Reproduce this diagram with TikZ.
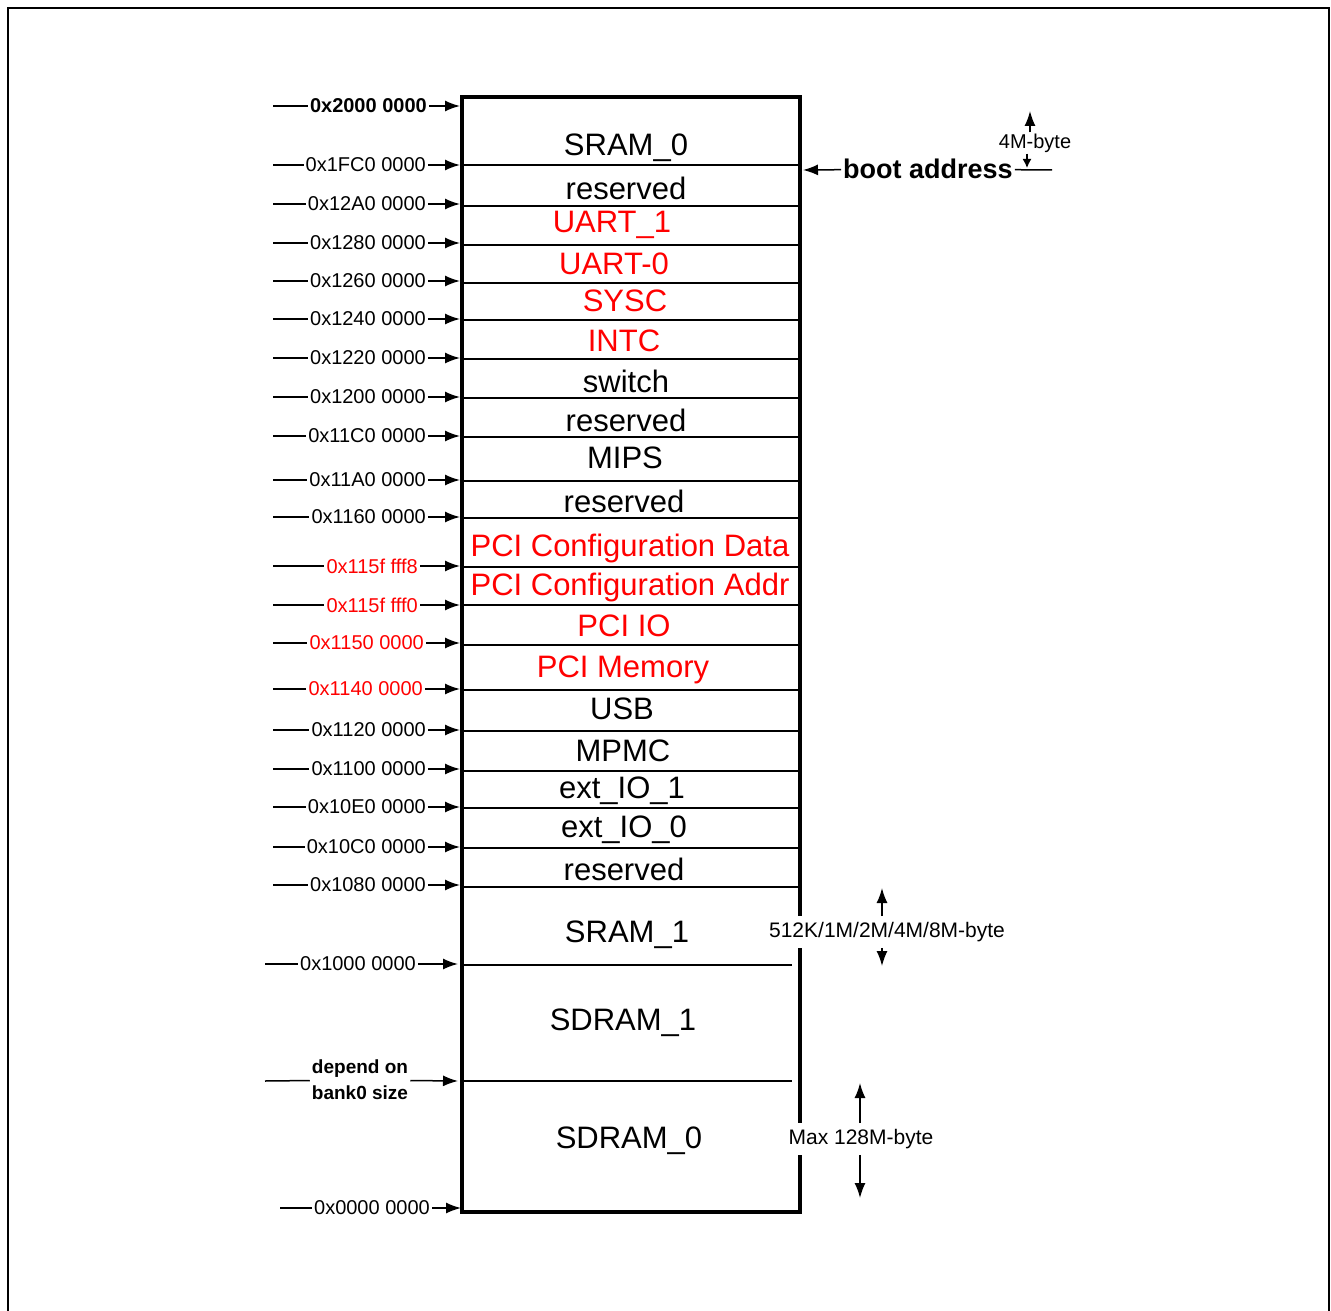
\documentclass[tikz,border=0pt]{standalone}
\usepackage{fontspec}
\setmainfont{Liberation Sans}
\usetikzlibrary{arrows.meta}

\begin{document}
\begin{tikzpicture}[x=1pt, y=-1pt,
  addr/.style={anchor=east, inner sep=2pt, font=\fontsize{20}{22}\selectfont},
  cell/.style={yshift=-3pt, font=\fontsize{31}{34}\selectfont},
  size/.style={fill=white, inner xsep=2pt, inner ysep=6pt, font=\fontsize{21}{23}\selectfont},
  link/.style={line width=1.5pt},
  arr/.style={-{Latex[length=15pt,width=11pt]}}]
  \useasboundingbox (0,0) rectangle (1331,1311);
  \draw[line width=2pt] (8,1320) -- (8,8) -- (1329,8) -- (1329,1320);

  % rows of the map
  \foreach \y in {206,245,283,320,359,398,437,481,518,567,605,645,690,731,771,808,848,887}
    \draw[link] (462,\y) -- (800,\y);
  \draw[line width=2.5pt] (462,165) -- (800,165);
  \draw[link] (462,965) -- (792,965);
  \draw[link] (462,1081) -- (792,1081);
  \draw[line width=4.5pt] (462,97) rectangle (800,1212);

  % blocks
  \node[cell] (sram0) at (626,145) {SRAM\_0};
  \node[cell] (rsv1) at (626,185) {reserved};
  \node[cell, red] (uart1) at (612,222) {UART\_1};
  \node[cell, red] (uart0) at (614,261) {UART-0};
  \node[cell, red] (sysc) at (625,298) {SYSC};
  \node[cell, red] (intc) at (624,338) {INTC};
  \node[cell] (switch) at (626,378) {switch};
  \node[cell] (rsv2) at (626,417) {reserved};
  \node[cell] (mips) at (625,455) {MIPS};
  \node[cell] (rsv3) at (624,498) {reserved};
  \node[cell, red] (pcidata) at (630,545) {PCI Configuration Data};
  \node[cell, red] (pciaddr) at (630,584) {PCI Configuration Addr};
  \node[cell, red] (pciio) at (624,623) {PCI IO};
  \node[cell, red] (pcimem) at (623,667) {PCI Memory};
  \node[cell] (usb) at (622,706) {USB};
  \node[cell] (mpmc) at (623,748) {MPMC};
  \node[cell] (extio1) at (622,788) {ext\_IO\_1};
  \node[cell] (extio0) at (624,827) {ext\_IO\_0};
  \node[cell] (rsv4) at (624,866) {reserved};
  \node[cell] (sram1) at (627,932) {SRAM\_1};
  \node[cell] (sdram1) at (623,1020) {SDRAM\_1};
  \node[cell] (sdram0) at (629,1138) {SDRAM\_0};

  % addresses
  \node[addr, font=\bfseries\fontsize{20}{22}\selectfont] (a0) at (429,106) {0x2000 0000};
  \coordinate (s0) at (273,106);
  \coordinate (e0) at (460,106);
  \draw[link] (s0) -- (a0);
  \draw[link, arr] (a0) -- (e0);
  \foreach \y/\t [count=\i] in {165/0x1FC0 0000, 204/0x12A0 0000, 243/0x1280 0000,
      281/0x1260 0000, 319/0x1240 0000, 358/0x1220 0000, 397/0x1200 0000,
      436/0x11C0 0000, 480/0x11A0 0000, 517/0x1160 0000, 730/0x1120 0000,
      769/0x1100 0000, 807/0x10E0 0000, 847/0x10C0 0000, 885/0x1080 0000} {
    \node[addr] (a\i) at (428,\y) {\t};
    \coordinate (s\i) at (273,\y);
    \coordinate (e\i) at (460,\y);
    \draw[link] (s\i) -- (a\i);
    \draw[link, arr] (a\i) -- (e\i);
  }
  \foreach \y/\t/\x [count=\i] in {566/0x115f fff8/420, 605/0x115f fff0/420,
      643/0x1150 0000/426, 689/0x1140 0000/425} {
    \node[addr, red] (r\i) at (\x,\y) {\t};
    \coordinate (rs\i) at (273,\y);
    \coordinate (re\i) at (460,\y);
    \draw[link] (rs\i) -- (r\i);
    \draw[link, arr] (r\i) -- (re\i);
  }
  \node[addr] (a16) at (418,964) {0x1000 0000};
  \coordinate (s16) at (265,964);
  \coordinate (e16) at (458,964);
  \draw[link] (s16) -- (a16);
  \draw[link, arr] (a16) -- (e16);
  \node[align=center, inner sep=2pt, font=\bfseries\fontsize{19}{26}\selectfont] (bank) at (360,1080) {depend on\\bank0 size};
  \coordinate (sbank) at (265,1081);
  \coordinate (ebank) at (458,1081);
  \draw[link] (sbank) -- (bank);
  \draw[link, arr] (bank) -- (ebank);
  \node[addr] (a17) at (432,1208) {0x0000 0000};
  \coordinate (s17) at (280,1208);
  \coordinate (e17) at (461,1208);
  \draw[link] (s17) -- (a17);
  \draw[link, arr] (a17) -- (e17);

  % boot address
  \node[inner sep=2pt, font=\bfseries\fontsize{27}{30}\selectfont] (boot) at (928,169) {boot address};
  \coordinate (bootin) at (803,170);
  \coordinate (bootend) at (1052,170);
  \draw[link, arr] (boot) -- (bootin);
  \draw[link] (boot) -- (bootend);
  \node[inner sep=1pt, font=\fontsize{20}{22}\selectfont] (mb4) at (1035,143) {4M-byte};
  \coordinate (mb4up) at (1030,111);
  \coordinate (mb4dn) at (1027,168);
  \draw[link, arr] (mb4.north -| mb4up) -- (mb4up);
  \draw[link, -{Latex[length=9pt,width=9pt]}] (mb4.south -| mb4dn) -- (mb4dn);

  % sizes
  \node[size] (sr1size) at (887,932) {512K/1M/2M/4M/8M-byte};
  \coordinate (sr1up) at (882,888);
  \coordinate (sr1dn) at (882,966);
  \draw[link, arr] (sr1size.north -| sr1up) -- (sr1up);
  \draw[link, arr] (sr1size.south -| sr1dn) -- (sr1dn);
  \node[size] (sd0size) at (861,1139) {Max 128M-byte};
  \coordinate (sd0up) at (860,1083);
  \coordinate (sd0dn) at (860,1198);
  \draw[link, arr] (sd0size.north -| sd0up) -- (sd0up);
  \draw[link, arr] (sd0size.south -| sd0dn) -- (sd0dn);
\end{tikzpicture}
\end{document}
